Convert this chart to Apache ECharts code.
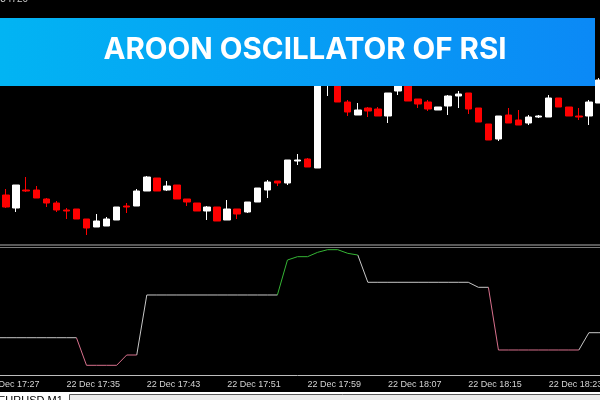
<!DOCTYPE html>
<html><head><meta charset="utf-8">
<script src="https://cdn.jsdelivr.net/npm/echarts@6/dist/echarts.min.js"></script>
<style>html,body{margin:0;padding:0;background:#000;overflow:hidden;width:600px;height:400px;position:relative}#c{position:absolute;left:-19px;top:0;width:633px;height:400px}</style>
</head><body><div id="c"></div>
<script>
const times = ['22 Dec 17:27','22 Dec 17:28','22 Dec 17:29','22 Dec 17:30','22 Dec 17:31','22 Dec 17:32','22 Dec 17:33','22 Dec 17:34','22 Dec 17:35','22 Dec 17:36','22 Dec 17:37','22 Dec 17:38','22 Dec 17:39','22 Dec 17:40','22 Dec 17:41','22 Dec 17:42','22 Dec 17:43','22 Dec 17:44','22 Dec 17:45','22 Dec 17:46','22 Dec 17:47','22 Dec 17:48','22 Dec 17:49','22 Dec 17:50','22 Dec 17:51','22 Dec 17:52','22 Dec 17:53','22 Dec 17:54','22 Dec 17:55','22 Dec 17:56','22 Dec 17:57','22 Dec 17:58','22 Dec 17:59','22 Dec 18:00','22 Dec 18:01','22 Dec 18:02','22 Dec 18:03','22 Dec 18:04','22 Dec 18:05','22 Dec 18:06','22 Dec 18:07','22 Dec 18:08','22 Dec 18:09','22 Dec 18:10','22 Dec 18:11','22 Dec 18:12','22 Dec 18:13','22 Dec 18:14','22 Dec 18:15','22 Dec 18:16','22 Dec 18:17','22 Dec 18:18','22 Dec 18:19','22 Dec 18:20','22 Dec 18:21','22 Dec 18:22','22 Dec 18:23','22 Dec 18:24','22 Dec 18:25','22 Dec 18:26','22 Dec 18:27','22 Dec 18:28','22 Dec 18:29'];

const opens = [null,null,1.34605,1.34592,1.34610,1.34610,1.34601,1.34597,1.34590,1.34591,1.34581,1.34573,1.34574,1.34580,1.34594,1.34594,1.34609,1.34622,1.34610,1.34615,1.34601,1.34597,1.34589,1.34593,1.34580,1.34591,1.34588,1.34598,1.34610,1.34619,1.34617,1.34639,1.34641,1.34632,1.34720,1.34720,1.34698,1.34685,1.34692,1.34691,1.34684,1.34709,1.34716,1.34701,1.34698,1.34690,1.34694,1.34704,1.34707,1.34692,1.34676,1.34661,1.34685,1.34680,1.34677,1.34683,1.34683,1.34702,1.34693,1.34684,1.34684,1.34697,null];
const closes = [null,null,1.34593,1.34615,1.34609,1.34602,1.34597,1.34590,1.34589,1.34581,1.34572,1.34579,1.34581,1.34593,1.34593,1.34609,1.34623,1.34609,1.34614,1.34601,1.34598,1.34589,1.34593,1.34579,1.34591,1.34586,1.34598,1.34612,1.34618,1.34617,1.34640,1.34640,1.34633,1.34730,1.34730,1.34698,1.34688,1.34690,1.34689,1.34684,1.34707,1.34716,1.34699,1.34696,1.34691,1.34693,1.34704,1.34706,1.34691,1.34678,1.34660,1.34684,1.34677,1.34675,1.34683,1.34684,1.34702,1.34693,1.34684,1.34683,1.34698,1.34720,null];
const lows = [null,null,1.34592,1.34588,1.34608,1.34602,1.34593,1.34588,1.34581,1.34581,1.34565,1.34573,1.34574,1.34580,1.34587,1.34594,1.34609,1.34609,1.34609,1.34601,1.34594,1.34589,1.34580,1.34579,1.34580,1.34581,1.34587,1.34598,1.34602,1.34614,1.34615,1.34635,1.34633,1.34632,1.34704,1.34698,1.34684,1.34685,1.34683,1.34684,1.34677,1.34705,1.34699,1.34692,1.34689,1.34690,1.34685,1.34692,1.34686,1.34678,1.34660,1.34659,1.34677,1.34675,1.34675,1.34682,1.34683,1.34693,1.34684,1.34680,1.34675,1.34697,null];
const highs = [null,null,1.34611,1.34615,1.34623,1.34614,1.34602,1.34599,1.34592,1.34591,1.34581,1.34586,1.34583,1.34593,1.34597,1.34611,1.34624,1.34622,1.34619,1.34615,1.34601,1.34597,1.34594,1.34593,1.34600,1.34591,1.34598,1.34612,1.34620,1.34619,1.34640,1.34646,1.34642,1.34735,1.34735,1.34725,1.34700,1.34697,1.34693,1.34693,1.34707,1.34720,1.34720,1.34701,1.34700,1.34693,1.34705,1.34709,1.34707,1.34692,1.34676,1.34684,1.34692,1.34690,1.34685,1.34685,1.34705,1.34702,1.34693,1.34692,1.34700,1.34722,null];

const aroonRsi = [-44.7,-44.7,-44.7,-44.7,-44.7,-44.7,-44.7,-44.7,-44.7,-44.7,-89.2,-89.2,-89.2,-89.2,-72.6,-72.6,24.2,24.2,24.2,24.2,24.2,24.2,24.2,24.2,24.2,24.2,24.2,24.2,24.2,24.2,80.6,86,86,93,97.3,97.3,91.4,88.7,44.7,44.7,44.7,44.7,44.7,44.7,44.7,44.7,44.7,44.7,44.7,36.6,36.6,-64.5,-64.5,-64.5,-64.5,-64.5,-64.5,-64.5,-64.5,-64.5,-36.6,-36.6,-36.6];

const upLevel = 60, downLevel = -50;
const titleText = 'AROON OSCILLATOR OF RSI';
const symbolText = 'EURUSD,M1';
const headerPrice = '1.34720';

const chart = echarts.init(document.getElementById('c'), null, {renderer: 'canvas'});
const candleData = times.map((t, i) => opens[i] == null ? '-' : [opens[i], closes[i], lows[i], highs[i]]);
function cls(v) { return v >= upLevel ? 'g' : (v <= downLevel ? 'p' : 'w'); }
const segs = {w: times.map(() => '-'), g: times.map(() => '-'), p: times.map(() => '-')};
for (let k = 0; k < aroonRsi.length; k++) {
  const c = cls(aroonRsi[k]);
  segs[c][k] = aroonRsi[k];
  if (k > 0) segs[c][k - 1] = aroonRsi[k - 1];
}
const lineColors = {w: '#c8c8c8', g: '#35b535', p: '#d8708c'};
function lineSeries(key) {
  return {type: 'line', xAxisIndex: 1, yAxisIndex: 1, data: segs[key], showSymbol: false, symbol: 'none',
    connectNulls: false, lineStyle: {width: 1, color: lineColors[key]}, itemStyle: {color: lineColors[key]}};
}
const OX = 19; // container offset (page x = container x - OX)

const option = {
  animation: false,
  backgroundColor: '#000',
  grid: [
    {left: 0, right: 0, top: 0, height: 243},
    {left: 0, right: 0, top: 248, height: 124}
  ],
  xAxis: [
    {type: 'category', gridIndex: 0, data: times, boundaryGap: true, show: false},
    {type: 'category', gridIndex: 1, data: times, boundaryGap: true, offset: 3,
      axisLine: {onZero: false, lineStyle: {color: '#bdbdbd', width: 1}},
      axisTick: {alignWithLabel: true, interval: 7, length: 3, lineStyle: {color: '#bdbdbd'}},
      axisLabel: {interval: 7, align: 'left', color: '#d4d4d4', fontSize: 9, fontFamily: 'Liberation Sans', margin: 5}}
  ],
  yAxis: [
    {type: 'value', gridIndex: 0, min: 1.34557, max: 1.34800, show: false, splitLine: {show: false}},
    {type: 'value', gridIndex: 1, min: -100, max: 100, show: false, splitLine: {show: false}}
  ],
  series: [
    {type: 'candlestick', xAxisIndex: 0, yAxisIndex: 0, data: candleData, barWidth: 7,
      itemStyle: {color: '#ffffff', color0: '#ff0000', borderColor: '#ffffff', borderColor0: '#ff0000', borderWidth: 1}},
    lineSeries('w'), lineSeries('p'), lineSeries('g')
  ],
  graphic: [
    {type: 'text', z: 100, style: {text: headerPrice, x: OX - 8, y: -6, fill: '#c8c8c8', font: '10px Liberation Sans'}},
    {type: 'rect', z: 100, shape: {x: OX, y: 18, width: 595, height: 68},
      style: {fill: {type: 'linear', x: 0, y: 0, x2: 1, y2: 0, colorStops: [{offset: 0, color: '#02b4f3'}, {offset: 1, color: '#0b89f6'}]}}},
    {type: 'text', z: 101, style: {text: titleText, x: OX + 305, y: 50, fill: '#ffffff', font: '700 29.5px Inter', align: 'center', verticalAlign: 'middle'}},
    {type: 'line', z: 100, shape: {x1: 0, y1: 245, x2: 640, y2: 245}, style: {stroke: '#b0b0b0', lineWidth: 1}},
    {type: 'line', z: 100, shape: {x1: 0, y1: 247.5, x2: 640, y2: 247.5}, style: {stroke: '#7a7a7a', lineWidth: 1}},
    {type: 'rect', z: 100, shape: {x: 0, y: 392, width: 640, height: 8}, style: {fill: '#ffffff'}},
    {type: 'rect', z: 101, shape: {x: OX + 69.5, y: 394.5, width: 560, height: 6}, style: {fill: '#ececec', stroke: '#5a5a5a', lineWidth: 1}},
    {type: 'text', z: 101, style: {text: symbolText, x: OX - 2, y: 395, fill: '#000000', font: '11px Liberation Sans'}}
  ]
};
chart.setOption(option);
</script></body></html>
